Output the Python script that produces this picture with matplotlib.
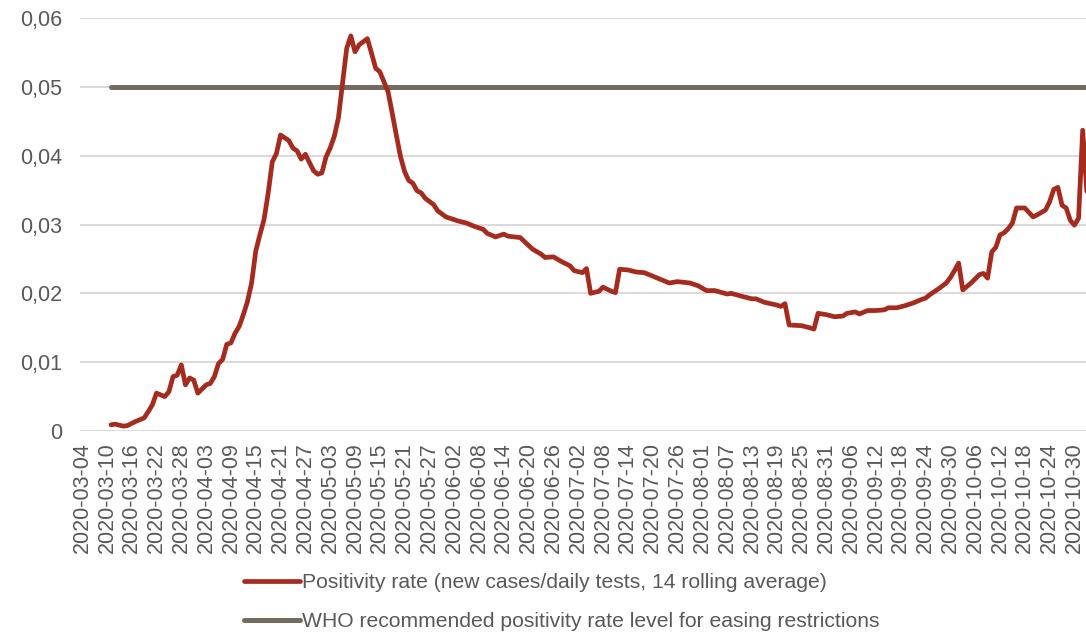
import matplotlib
matplotlib.use("Agg")
import matplotlib.pyplot as plt
import matplotlib.dates as mdates
from matplotlib.ticker import FuncFormatter
import pandas as pd

plt.rcParams["font.family"] = ["Liberation Sans", "DejaVu Sans"]

# Day offsets from 2020-03-04 and the 14-day rolling positivity rate
start_date = "2020-03-04"
days_since_start = [
    7, 8, 10, 11, 13, 15, 16, 17, 18, 20, 21, 22, 23, 24, 25, 26, 27, 28, 30, 31,
    32, 33, 34, 35, 36, 37, 38, 39, 40, 41, 42, 43, 44, 45, 46, 47, 48, 50, 51, 52,
    53, 54, 55, 56, 57, 58, 59, 60, 61, 62, 63, 64, 65, 66, 67, 69, 70, 71, 72, 74,
    75, 76, 77, 78, 79, 80, 81, 82, 83, 85, 86, 88, 89, 91, 93, 95, 97, 98, 100, 102,
    103, 106, 107, 109, 111, 112, 114, 116, 118, 119, 121, 122, 123, 125, 126, 128, 129, 130, 132, 134,
    136, 138, 140, 142, 144, 147, 149, 151, 153, 156, 157, 160, 162, 163, 165, 168, 169, 170, 171, 174,
    176, 177, 178, 180, 182, 184, 185, 187, 188, 190, 192, 194, 195, 197, 199, 201, 203, 204, 205, 207,
    209, 210, 211, 212, 213, 215, 217, 218, 219, 220, 221, 222, 223, 224, 225, 226, 228, 230, 231, 233,
    234, 235, 236, 237, 238, 239, 240, 241, 242, 243,
]
positivity_rate = [
    0.0009, 0.0010, 0.0007, 0.0008, 0.0014, 0.0019, 0.0028, 0.0038, 0.0055, 0.0050,
    0.0057, 0.0079, 0.0081, 0.0096, 0.0067, 0.0077, 0.0074, 0.0055, 0.0067, 0.0069,
    0.0079, 0.0098, 0.0104, 0.0126, 0.0128, 0.0142, 0.0152, 0.0169, 0.0188, 0.0215,
    0.0261, 0.0285, 0.0307, 0.0345, 0.0391, 0.0403, 0.0430, 0.0422, 0.0411, 0.0407,
    0.0395, 0.0402, 0.0390, 0.0378, 0.0373, 0.0375, 0.0398, 0.0411, 0.0428, 0.0455,
    0.0505, 0.0556, 0.0574, 0.0551, 0.0561, 0.0570, 0.0549, 0.0527, 0.0522, 0.0493,
    0.0462, 0.0430, 0.0399, 0.0377, 0.0364, 0.0360, 0.0349, 0.0346, 0.0338, 0.0329,
    0.0320, 0.0311, 0.0309, 0.0305, 0.0302, 0.0297, 0.0293, 0.0287, 0.0282, 0.0286,
    0.0283, 0.0281, 0.0275, 0.0264, 0.0257, 0.0252, 0.0253, 0.0246, 0.0240, 0.0233,
    0.0230, 0.0236, 0.0200, 0.0203, 0.0209, 0.0203, 0.0201, 0.0235, 0.0234, 0.0231,
    0.0230, 0.0225, 0.0220, 0.0215, 0.0217, 0.0215, 0.0211, 0.0204, 0.0204, 0.0199,
    0.0200, 0.0195, 0.0192, 0.0192, 0.0187, 0.0183, 0.0181, 0.0185, 0.0154, 0.0153,
    0.0150, 0.0148, 0.0171, 0.0169, 0.0166, 0.0167, 0.0171, 0.0173, 0.0170, 0.0175,
    0.0175, 0.0176, 0.0179, 0.0179, 0.0182, 0.0186, 0.0191, 0.0193, 0.0198, 0.0206,
    0.0215, 0.0223, 0.0233, 0.0244, 0.0205, 0.0215, 0.0227, 0.0229, 0.0222, 0.0260,
    0.0267, 0.0285, 0.0288, 0.0294, 0.0302, 0.0324, 0.0324, 0.0311, 0.0314, 0.0321,
    0.0333, 0.0351, 0.0354, 0.0328, 0.0324, 0.0306, 0.0299, 0.0309, 0.0437, 0.0348,
]
who_level = 0.05

series_label = "Positivity rate (new cases/daily tests, 14 rolling average)"
who_label = "WHO recommended positivity rate level for easing restrictions"
y_ticks = [0, 0.01, 0.02, 0.03, 0.04, 0.05, 0.06]

t0 = pd.Timestamp(start_date)
dates = [t0 + pd.Timedelta(days=d) for d in days_since_start]
tick_dates = pd.date_range(start_date, "2020-10-30", freq="6D")

red = "#A62B1F"
taupe = "#736B5E"
text_grey = "#595959"

fig = plt.figure(figsize=(10.86, 6.33), dpi=100)
ax = fig.add_axes([80 / 1086, 1 - 431 / 633, 1 - 80 / 1086, (431 - 18) / 633])

ax.plot(dates, positivity_rate, color=red, lw=3.4, solid_capstyle="round",
        solid_joinstyle="round", label=series_label, zorder=3, clip_on=True)
ax.plot([dates[0], dates[-1] + pd.Timedelta(days=2)], [who_level, who_level],
        color=taupe, lw=3.6, solid_capstyle="round", label=who_label, zorder=2)

ax.set_ylim(0, 0.06)
ax.set_yticks(y_ticks)
ax.yaxis.set_major_formatter(FuncFormatter(lambda v, _: "0" if v == 0 else f"{v:.2f}".replace(".", ",")))
ax.set_xlim(t0 - pd.Timedelta(days=0.5), t0 + pd.Timedelta(days=242.8))
ax.set_xticks(tick_dates)
ax.xaxis.set_major_formatter(mdates.DateFormatter("%Y-%m-%d"))

ax.grid(axis="y", color="#D9D9D9", lw=1.4, zorder=0)
ax.set_axisbelow(True)
for s in ax.spines.values():
    s.set_visible(False)
ax.tick_params(axis="both", length=0, colors=text_grey, labelsize=15.5)
ax.tick_params(axis="y", pad=13)
ax.tick_params(axis="x", pad=8)
for lbl in ax.get_xticklabels():
    lbl.set_rotation(90)

fig.legend(loc="upper left", bbox_to_anchor=(244 / 1086, 1 - 573 / 633),
           frameon=False, fontsize=15.2, handlelength=2.65, handletextpad=0.1,
           labelspacing=0.95, labelcolor=text_grey, borderaxespad=0, borderpad=0)

fig.savefig("out.png", dpi=100)
